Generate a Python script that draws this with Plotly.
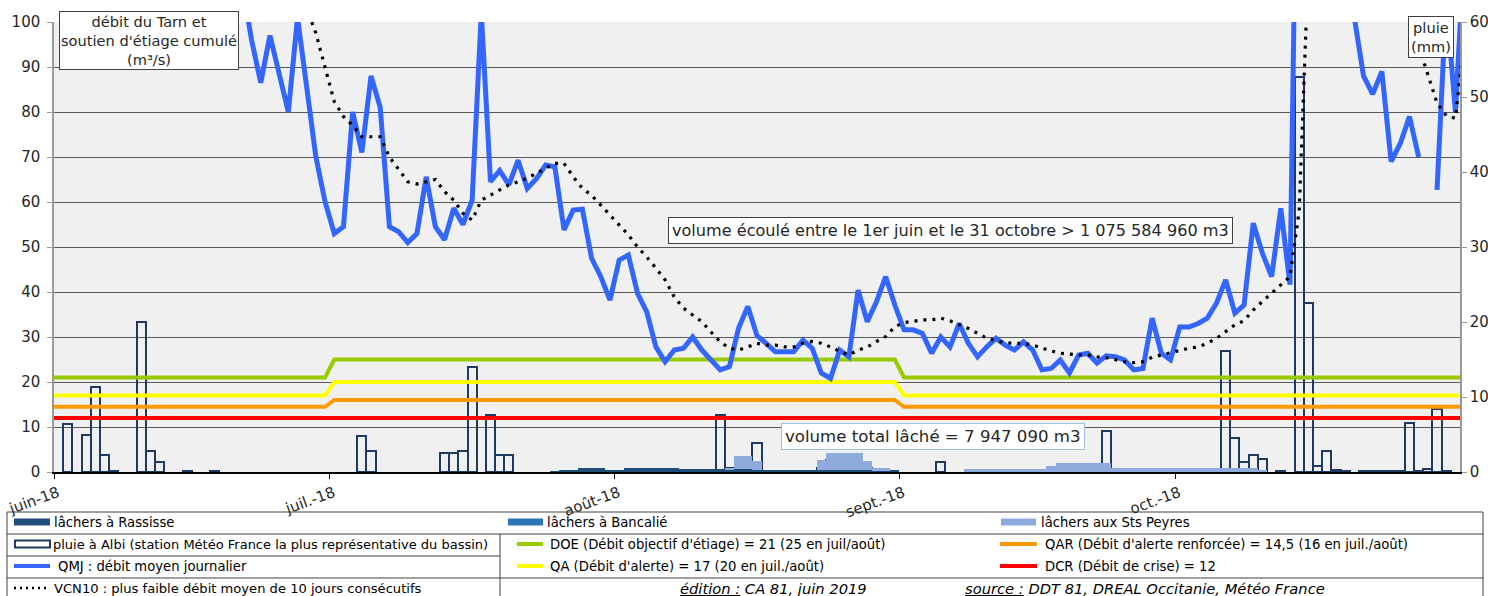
import pandas as pd
import numpy as np
import plotly.graph_objects as go

# ---------------- data ----------------
month_labels = ["juin-18", "juil.-18", "août-18", "sept.-18", "oct.-18"]
month_starts = ["2018-06-01", "2018-07-01", "2018-08-01", "2018-09-01", "2018-10-01"]
month_lengths = [30, 31, 31, 30, 31, 1]  # juin..oct + 1er nov

# QMJ : débit moyen journalier (m3/s)
qmj_juin = [185, 210, 240, 225, 205, 190, 200, 230, 215, 195, 180, 170, 160, 150, 142,
            135, 128, 122, 116, 112, 108, 96, 86.5, 97, 89, 80, 101, 85, 70, 60]
qmj_juil = [53, 54.5, 80, 71, 88, 81, 54.5, 53.4, 51, 53, 65.6, 54.5, 51.6, 58.6, 55, 60.4,
            102, 64.5, 67, 63.8, 69.3, 63, 65.2, 68.2, 67.8, 53.8, 58.2, 58.4, 47.5, 43.4, 38.2]
qmj_aout = [47.1, 48.2, 39.7, 35.6, 27.8, 24.5, 27.1, 27.5, 30, 27.1, 24.9, 22.7, 23.4, 32,
            36.8, 30.3, 28.6, 26.7, 26.7, 26.7, 29.3, 27.5, 22, 20.8, 27.1, 25.6, 40.4, 33.4,
            37.8, 43.4, 37.1]
qmj_sept = [31.6, 31.6, 30.8, 26.4, 30, 27.8, 33, 28.6, 25.6, 27.8, 29.7, 28.2, 27.1, 28.9,
            27.1, 22.7, 23, 24.9, 22, 26, 26.4, 24.2, 25.8, 25.6, 24.9, 22.7, 23, 34.2, 26.4, 24.9]
qmj_oct = [32.2, 32.2, 33, 34.2, 37.5, 42.7, 35.3, 37.1, 55.3, 48.6, 43.4, 58.6, 41.6, 180,
           230, 200, 170, 140, 118, 101, 88, 84, 89, 69, 73, 79, 70, None, 62.7, 105, 80]
qmj_nov = [117]

# VCN10 (m3/s)
vcn_juin = [200, 198, 196, 194, 192, 190, 188, 185, 182, 178, 175, 172, 168, 165, 160, 155,
            150, 145, 140, 135, 130, 125, 120, 115, 112, 108, 106, 103, 97.5, 89.7]
vcn_juil = [82.3, 79, 77, 74.5, 74.5, 74.5, 70, 67.1, 64.5, 64, 64.5, 65, 62.3, 60.4, 57.5,
            56, 60.4, 61.5, 62.7, 63.8, 64.5, 65.3, 66.4, 67.5, 68.6, 68.6, 65.6, 63, 61.5,
            59.3, 57.1]
vcn_aout = [54.9, 52.7, 50, 47.8, 45.3, 42.7, 38.9, 36.4, 34.9, 33.4, 31.1, 28.9, 27.5, 27.1,
            27.8, 28.6, 28.2, 28.2, 27.8, 27.8, 28.6, 29, 28.6, 27.8, 26.8, 26, 27.1, 27.8, 29,
            30.1, 32.3]
vcn_sept = [33.2, 33.5, 33.8, 33.8, 34.2, 33.6, 32.7, 31.9, 30.8, 29.7, 29.2, 28.7, 28.6,
            28.6, 28.2, 27.5, 26.9, 26.4, 26.2, 26, 26, 25.6, 25.4, 24.9, 24.5, 24.3, 24.5,
            25.5, 26, 26.4]
vcn_oct = [27, 27.5, 27.8, 28.6, 29.7, 31.2, 32.7, 33.6, 36, 37.9, 39.7, 41.6, 43.4, 58, 113,
           125, 130, 135, 140, 138, 130, 122, 115, 110, 105, 101, 94.5, 88, 82, 79.2, 78.6]
vcn_nov = [97]

# pluie à Albi (mm)
pluie_juin = [0, 6.4, 0, 4.9, 11.3, 2.3, 0.2, 0, 0, 20.0, 2.8, 1.4, 0, 0, 0.2, 0, 0, 0.2,
              0, 0, 0, 0, 0, 0, 0, 0, 0, 0, 0, 0]
pluie_juil = [0, 0, 0, 4.8, 2.8, 0, 0, 0, 0, 0, 0, 0, 2.5, 2.5, 2.8, 14.0, 0, 7.6, 2.3, 2.3,
              0, 0, 0, 0, 0, 0, 0, 0, 0, 0, 0]
pluie_aout = [0, 0, 0, 0, 0, 0, 0, 0, 0, 0, 0, 7.6, 0.6, 0, 0, 3.9, 0, 0, 0, 0, 0, 0, 0.6,
              1.6, 0.6, 0, 0, 0.6, 0, 0, 0]
pluie_sept = [0, 0, 0, 0, 1.4, 0, 0, 0, 0, 0, 0, 0, 0, 0, 0, 0, 0, 0, 0, 0, 0, 0, 5.5, 0, 0,
              0, 0, 0, 0, 0]
pluie_oct = [0, 0, 0, 0, 0, 16.2, 4.6, 1.3, 2.3, 1.7, 0, 0.2, 0, 52.7, 22.6, 0.8, 2.8, 0.3,
             0.2, 0, 0.2, 0.2, 0.2, 0.2, 0.2, 6.5, 0.2, 0.4, 8.4, 0.2, 0]
pluie_nov = [0]

# lâchers (m3/s)
rassisse_juin = [0] * 30
rassisse_juil = [0] * 24 + [0.1, 0.4, 0.4, 0.8, 0.8, 0.8, 0.4]
rassisse_aout = [0.4, 1.0, 1.0, 1.0, 1.0, 1.0, 1.0, 0.6, 0.6, 0.6, 0.6, 0.6, 0.6, 0.6, 0.6,
                 0.5, 0.5, 0.5, 0.5, 0.5, 0.5, 0.5, 0.5, 0.5, 0.5, 0.5, 0.5, 0.5, 0.3, 0.3, 0.3]
rassisse_sept = [0] * 30
rassisse_oct = [0] * 31
rassisse_nov = [0]

bancalie_juin = [0] * 30
bancalie_juil = [0] * 31
bancalie_aout = [0] * 31
bancalie_sept = [0] * 30
bancalie_oct = [0] * 31
bancalie_nov = [0]

peyres_juin = [0] * 30
peyres_juil = [0] * 31
peyres_aout = [0] * 12 + [0.4, 2.9, 2.9, 1.9, 0, 0, 0, 0, 0, 0, 2.1, 3.8, 3.8, 3.8, 3.8, 1.9,
                          0.5, 0.5, 0]
peyres_sept = [0] * 7 + [0.7] * 9 + [1.4] + [2.1] * 6 + [1.0] * 7
peyres_oct = [1.0] * 9 + [0.4] + [0] * 21
peyres_nov = [0]

# seuils (juin, juil, août, sept, oct, nov)
doe_levels = [21, 25, 25, 21, 21, 21]
qa_levels = [17, 20, 20, 17, 17, 17]
qar_levels = [14.5, 16, 16, 14.5, 14.5, 14.5]
dcr_levels = [12, 12, 12, 12, 12, 12]

volume_ecoule = "volume écoulé entre le 1er juin et le 31 octobre > 1 075 584 960 m3"
volume_lache = "volume total lâché = 7 947 090 m3"

# ---------------- assemble ----------------
dates = pd.date_range("2018-06-01", "2018-11-01", freq="D")
centers = dates + pd.Timedelta(hours=12)
x_start, x_end = pd.Timestamp("2018-06-01"), pd.Timestamp("2018-11-01")

qmj = qmj_juin + qmj_juil + qmj_aout + qmj_sept + qmj_oct + qmj_nov
vcn = vcn_juin + vcn_juil + vcn_aout + vcn_sept + vcn_oct + vcn_nov
pluie = pluie_juin + pluie_juil + pluie_aout + pluie_sept + pluie_oct + pluie_nov
pluie_plot = [v if v else None for v in pluie]
rassisse = rassisse_juin + rassisse_juil + rassisse_aout + rassisse_sept + rassisse_oct + rassisse_nov
bancalie = bancalie_juin + bancalie_juil + bancalie_aout + bancalie_sept + bancalie_oct + bancalie_nov
peyres = peyres_juin + peyres_juil + peyres_aout + peyres_sept + peyres_oct + peyres_nov


def daily(levels):
    return list(np.repeat(levels, month_lengths))


DAY_MS = 86400000
fig = go.Figure()

# rain bars (primary y = right axis, drawn below)
fig.add_trace(go.Bar(x=centers, y=pluie_plot, width=DAY_MS, yaxis="y",
                     marker=dict(color="rgba(0,0,0,0)", line=dict(color="#1F3864", width=2))))

# releases, stacked (flow axis)
for vals, col in [(rassisse, "#1F4E79"), (bancalie, "#2E75B6"), (peyres, "#8FAADC")]:
    fig.add_trace(go.Bar(x=centers, y=vals, width=DAY_MS, yaxis="y2",
                         marker=dict(color=col, line=dict(width=0))))

# thresholds
for levels, col in [(doe_levels, "#99CC00"), (qa_levels, "#FFFF00"),
                    (qar_levels, "#FF9900"), (dcr_levels, "#FF0000")]:
    d = daily(levels)
    fig.add_trace(go.Scatter(x=[x_start] + list(centers), y=[d[0]] + d, yaxis="y2",
                             mode="lines", line=dict(color=col, width=4)))

fig.add_trace(go.Scatter(x=centers, y=qmj, yaxis="y2", mode="lines", connectgaps=False,
                         line=dict(color="#3366FF", width=5)))
fig.add_trace(go.Scatter(x=centers, y=vcn, yaxis="y2", mode="lines",
                         line=dict(color="#000000", width=3.2, dash="3px,6px")))

# ---------------- layout helpers ----------------
L, R, T, B = 54, 1460, 22, 472


def px(xp):
    return (xp - L) / (R - L)


def py(yp):
    return (B - yp) / (B - T)


annotations = []
shapes = []

FONT = "DejaVu Sans"
TXT = "#262626"

annotations.append(dict(xref="paper", yref="paper", x=px(149), y=py(40.5),
                        text="débit du Tarn et<br>soutien d'étiage cumulé<br>(m³/s)",
                        showarrow=False, font=dict(family=FONT, size=14.6, color=TXT),
                        bgcolor="white", bordercolor="#404040", borderwidth=1, borderpad=1,
                        xanchor="center", yanchor="middle"))
annotations.append(dict(xref="paper", yref="paper", x=px(1431), y=py(37),
                        text="pluie<br>(mm)", showarrow=False,
                        font=dict(family=FONT, size=14.6, color=TXT),
                        bgcolor="white", bordercolor="#404040", borderwidth=1, borderpad=2,
                        xanchor="center", yanchor="middle"))
annotations.append(dict(xref="paper", yref="paper", x=px(950.5), y=py(230),
                        text=volume_ecoule, showarrow=False,
                        font=dict(family=FONT, size=16.1, color=TXT),
                        bgcolor="white", bordercolor="#404040", borderwidth=1, borderpad=3,
                        xanchor="center", yanchor="middle"))
annotations.append(dict(xref="paper", yref="paper", x=px(933), y=py(436),
                        text=volume_lache, showarrow=False,
                        font=dict(family=FONT, size=16.6, color=TXT),
                        bgcolor="white", bordercolor="#9DC3E6", borderwidth=1, borderpad=3,
                        xanchor="center", yanchor="middle"))

# legend table
def hline(x0, x1, y, color="#404040", w=1):
    shapes.append(dict(type="line", xref="paper", yref="paper", x0=px(x0), x1=px(x1),
                       y0=py(y), y1=py(y), line=dict(color=color, width=w)))


def vline(x, y0, y1):
    shapes.append(dict(type="line", xref="paper", yref="paper", x0=px(x), x1=px(x),
                       y0=py(y0), y1=py(y1), line=dict(color="#404040", width=1)))


shapes.append(dict(type="rect", xref="paper", yref="paper", x0=px(7), x1=px(1483),
                   y0=py(512), y1=py(600), line=dict(color="#404040", width=1)))
hline(7, 1483, 534)
hline(7, 500, 556)
hline(7, 1483, 578)
vline(500, 534, 600)

LEG = 13.2


def legtext(x, y, t, size=LEG, anchor="left"):
    annotations.append(dict(xref="paper", yref="paper", x=px(x), y=py(y), text=t,
                            showarrow=False, xanchor=anchor, yanchor="middle",
                            font=dict(family=FONT, size=size, color="#000")))


def swatch_rect(x0, x1, y, col):
    shapes.append(dict(type="rect", xref="paper", yref="paper", x0=px(x0), x1=px(x1),
                       y0=py(y + 3.5), y1=py(y - 3.5), fillcolor=col, line=dict(width=0)))


def swatch_line(x0, x1, y, col, w=4, dash="solid"):
    shapes.append(dict(type="line", xref="paper", yref="paper", x0=px(x0), x1=px(x1),
                       y0=py(y), y1=py(y), line=dict(color=col, width=w, dash=dash)))


swatch_rect(14, 50, 522, "#1F4E79")
legtext(52, 522, "lâchers à Rassisse")
swatch_rect(508, 543, 522, "#2E75B6")
legtext(545, 522, "lâchers à Bancalié")
swatch_rect(1001, 1036, 522, "#8FAADC")
legtext(1039, 522, "lâchers aux Sts Peyres")

shapes.append(dict(type="rect", xref="paper", yref="paper", x0=px(15), x1=px(50),
                   y0=py(547.5), y1=py(540.5), line=dict(color="#1F3864", width=2)))
legtext(51, 544, "pluie à Albi (station Météo France la plus représentative du bassin)", size=13.0)
swatch_line(517, 543, 544, "#99CC00")
legtext(548, 544, "DOE (Débit objectif d'étiage) = 21 (25 en juil/août)")
swatch_line(1000, 1037, 544, "#FF9900")
legtext(1043, 544, "QAR (Débit d'alerte renforcée) = 14,5 (16 en juil./août)")

swatch_line(14, 50, 566, "#3366FF")
legtext(56, 566, "QMJ : débit moyen journalier")
swatch_line(517, 543, 566, "#FFFF00")
legtext(548, 566, "QA (Débit d'alerte) = 17 (20 en juil./août)")
swatch_line(1000, 1037, 566, "#FF0000")
legtext(1043, 566, "DCR (Débit de crise) = 12")

swatch_line(14, 50, 588, "#000000", w=2.5, dash="2px,4px")
legtext(52, 588, "VCN10 : plus faible débit moyen de 10 jours consécutifs", size=13.1)
legtext(773, 588, "<i><u>édition :</u> CA 81, juin 2019</i>", size=14.7, anchor="center")
legtext(963, 588, "<i><u>source :</u> DDT 81, DREAL Occitanie, Météo France</i>", size=14.7)

fig.update_layout(
    width=1488, height=596, autosize=False,
    margin=dict(l=L, r=1488 - R, t=T, b=596 - B, autoexpand=False),
    paper_bgcolor="white", plot_bgcolor="#F0F0F0",
    barmode="stack", bargap=0, showlegend=False,
    font=dict(family=FONT, color=TXT),
    xaxis=dict(type="date", range=[x_start, x_end], tickvals=month_starts,
               ticktext=month_labels, tickangle=-20, ticks="outside", ticklen=5,
               tickcolor="#000", showline=True, linecolor="#000", linewidth=1.5,
               showgrid=False, zeroline=False, automargin=False, ticklabelshift=4,
               tickfont=dict(size=15, color=TXT)),
    yaxis=dict(range=[0, 60], dtick=10, side="right", showgrid=False, showline=True,
               linecolor="#999", linewidth=1.5, ticks="outside", ticklen=5, tickcolor="#999",
               zeroline=False, automargin=False, tickfont=dict(size=15, color=TXT)),
    yaxis2=dict(range=[0, 100], dtick=10, side="left", overlaying="y", showgrid=True,
                gridcolor="#595959", gridwidth=1, showline=True, linecolor="#999",
                linewidth=1.5, ticks="outside", ticklen=5, tickcolor="#999",
                ticklabelstandoff=4,
                zeroline=False, automargin=False, tickfont=dict(size=15, color=TXT)),
    annotations=annotations, shapes=shapes,
)

fig.write_html("out.html", config={"displayModeBar": False},
               post_script="document.body.style.margin='0';document.body.style.overflow='hidden';")
